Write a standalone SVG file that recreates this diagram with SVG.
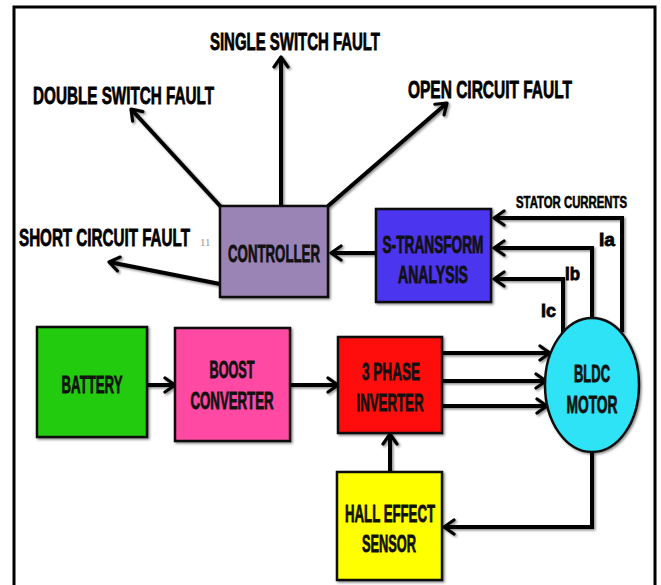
<svg xmlns="http://www.w3.org/2000/svg" width="661" height="585" viewBox="0 0 661 585">
<defs>
<filter id="sh" x="-20%" y="-20%" width="140%" height="140%">
<feDropShadow dx="1.5" dy="1.5" stdDeviation="1.2" flood-color="#000" flood-opacity="0.45"/>
</filter>
<marker id="ah" markerUnits="userSpaceOnUse" viewBox="0 0 14 18" refX="12" refY="9" markerWidth="14" markerHeight="18" orient="auto">
<path d="M2,2 L12,9 L2,16" fill="none" stroke="#000" stroke-width="3.2" stroke-linecap="round" stroke-linejoin="round"/>
</marker>
</defs>
<style>
.box{stroke:#111;stroke-width:2.5;filter:url(#sh)}
.lbl{font-family:"Liberation Sans",Arial,sans-serif;font-weight:bold;font-size:23px;fill:#111;stroke:#111;stroke-width:0.8;text-anchor:middle}
.ext{font-family:"Liberation Sans",Arial,sans-serif;font-weight:bold;font-size:24px;fill:#000;stroke:#000;stroke-width:0.8}
.con path{fill:none;stroke:#000;stroke-width:4;marker-end:url(#ah)}
</style>
<rect x="0" y="0" width="661" height="585" fill="#fff"/>
<rect x="14" y="7" width="641" height="620" fill="#fff" stroke="#000" stroke-width="3"/>

<g id="labels">
<text class="ext" transform="translate(210,50) scale(0.65,1)" textLength="261.5" lengthAdjust="spacingAndGlyphs">SINGLE SWITCH FAULT</text>
<text class="ext" transform="translate(33,104) scale(0.65,1)" textLength="278.5" lengthAdjust="spacingAndGlyphs">DOUBLE SWITCH FAULT</text>
<text class="ext" transform="translate(408,98) scale(0.65,1)" textLength="252.3" lengthAdjust="spacingAndGlyphs">OPEN CIRCUIT FAULT</text>
<text class="ext" transform="translate(19,246) scale(0.65,1)" textLength="263" lengthAdjust="spacingAndGlyphs">SHORT CIRCUIT FAULT</text>
<text x="200" y="246" font-family="Liberation Serif,serif" font-size="11" fill="#999">11</text>
<text class="ext" style="font-size:17px;stroke-width:0.6" transform="translate(516,208) scale(0.65,1)" textLength="170.8" lengthAdjust="spacingAndGlyphs">STATOR CURRENTS</text>
<text class="ext" style="font-size:19px" transform="translate(599,246) scale(0.65,1)" textLength="24.6" lengthAdjust="spacingAndGlyphs">Ia</text>
<text class="ext" style="font-size:19px" transform="translate(565,280) scale(0.65,1)" textLength="23" lengthAdjust="spacingAndGlyphs">Ib</text>
<text class="ext" style="font-size:19px" transform="translate(541,317) scale(0.65,1)" textLength="23" lengthAdjust="spacingAndGlyphs">Ic</text>
</g>

<g id="connectors" class="con" filter="url(#sh)">
<path d="M281,206 L281,57"/>
<path d="M222,208 L131,109"/>
<path d="M328,206 L447,103"/>
<path d="M220,284 L109,262"/>
<path d="M376,253 L331,253"/>
<path d="M622,332 L622,218 L494,218"/>
<path d="M592,318 L592,248 L494,248"/>
<path d="M563,334 L563,279 L494,279"/>
<path d="M147,385 L175,385"/>
<path d="M290,385 L338,385"/>
<path d="M442,353 L550,353"/>
<path d="M442,381 L546,381"/>
<path d="M442,406 L547,406"/>
<path d="M390,472 L390,434"/>
<path d="M592,452 L592,527 L444,527"/>
</g>

<g id="controller">
<rect class="box" x="220" y="206" width="108" height="91" fill="#9a84b6"/>
<text class="lbl" transform="translate(274,262) scale(0.65,1)" textLength="141.5" lengthAdjust="spacingAndGlyphs">CONTROLLER</text>
</g>
<g id="stransform">
<rect class="box" x="376" y="209" width="115" height="93" fill="#4b35ef"/>
<text class="lbl" transform="translate(433,253) scale(0.65,1)" textLength="155.4" lengthAdjust="spacingAndGlyphs">S-TRANSFORM</text>
<text class="lbl" transform="translate(433,283) scale(0.65,1)" textLength="107.7" lengthAdjust="spacingAndGlyphs">ANALYSIS</text>
</g>
<g id="battery">
<rect class="box" x="37" y="327" width="110" height="110" fill="#22cb10"/>
<text class="lbl" transform="translate(92,393) scale(0.65,1)" textLength="93.8" lengthAdjust="spacingAndGlyphs">BATTERY</text>
</g>
<g id="boost">
<rect class="box" x="175" y="328" width="115" height="113" fill="#ff48a2"/>
<text class="lbl" transform="translate(232,378) scale(0.65,1)" textLength="69.2" lengthAdjust="spacingAndGlyphs">BOOST</text>
<text class="lbl" transform="translate(232,409) scale(0.65,1)" textLength="127.7" lengthAdjust="spacingAndGlyphs">CONVERTER</text>
</g>
<g id="inverter">
<rect class="box" x="338" y="337" width="104" height="96" fill="#ff0c0c"/>
<text class="lbl" transform="translate(391,380) scale(0.65,1)" textLength="89.2" lengthAdjust="spacingAndGlyphs">3 PHASE</text>
<text class="lbl" transform="translate(390,411) scale(0.65,1)" textLength="103" lengthAdjust="spacingAndGlyphs">INVERTER</text>
</g>
<g id="motor">
<ellipse class="box" cx="592" cy="385" rx="47" ry="67" fill="#2de3f5"/>
<text class="lbl" transform="translate(592,382) scale(0.65,1)" textLength="55.4" lengthAdjust="spacingAndGlyphs">BLDC</text>
<text class="lbl" transform="translate(592,413) scale(0.65,1)" textLength="78.5" lengthAdjust="spacingAndGlyphs">MOTOR</text>
</g>
<g id="hall">
<rect class="box" x="337" y="472" width="105" height="108" fill="#ffff00"/>
<text class="lbl" transform="translate(390,522) scale(0.65,1)" textLength="138.5" lengthAdjust="spacingAndGlyphs">HALL EFFECT</text>
<text class="lbl" transform="translate(389,552) scale(0.65,1)" textLength="83" lengthAdjust="spacingAndGlyphs">SENSOR</text>
</g>
</svg>
